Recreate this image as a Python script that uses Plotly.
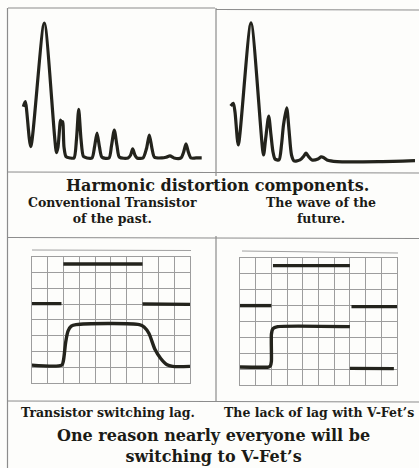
import plotly.graph_objects as go

W, H = 419, 468

# ---------------- data ----------------
# Harmonic distortion spectra (x: sweep position, y: relative amplitude, 100 = fundamental)
conv_x = [15.3, 17.3, 22.7, 36.3, 48.5, 50, 52.5, 53.5, 54.7, 56, 58, 62, 66, 68.5, 70.7, 73, 75.5, 79,
          84, 86.5, 89, 91.5, 94, 101, 103.5, 106.3, 109, 111.5, 120, 122.5, 124.7, 127, 129, 135,
          138.5, 141.3, 144, 146.5, 154, 158, 162, 166, 173, 175.5, 178, 180.5, 183, 188, 193.7]
conv_y = [38, 41.7, 8.4, 100, 4, 8, 28, 25, 27, 8, 1, 0, 0, 14, 36, 14, 1, 0,
          0, 8, 18.5, 8, 0.5, 0, 9, 20.7, 9, 0.5, 0, 2, 6.7, 2, 0, 0,
          7, 17, 7, 0.5, 0, 0.5, 1.5, 0, 0, 4, 10.4, 4, 0, 0, 0]

vfet_x = [13.7, 16.3, 18, 21.3, 34, 46.5, 48.5, 51.7, 54, 56, 58, 62, 64.5, 66.5, 69.7, 72, 74.5, 77,
          83, 87, 89, 91, 95, 101, 104, 106.5, 110, 120, 163, 198]
vfet_y = [39.4, 41.4, 35, 11, 100, 3.6, 14.6, 32, 18, 5.8, 0.7, 0, 11, 25.5, 38, 22, 3.6, -0.7,
          0, 3, 5, 3, 0, 0.7, 2.2, 1.8, 0, -1.2, -1.2, -0.5]

# Oscilloscope switching traces (x: divisions 0-10, y: divisions 0-8)
drive_x = [2.0, 7.0]
drive_y = [7.54, 7.54]
ref_x = [0, 1.88, None, 7.0, 10.0]
ref_y = [5.03, 5.03, None, 5.0, 4.98]
lag_x = [0, 1.9, 2.0, 2.15, 2.3, 2.5, 2.8, 6.8, 7.1, 7.4, 7.8, 8.15, 8.55, 8.9, 10.0]
lag_y = [1.13, 1.13, 1.4, 2.6, 3.3, 3.6, 3.7, 3.7, 3.55, 3.15, 2.1, 1.55, 1.15, 1.05, 1.05]

drive2_x = [2.1, 7.0]
drive2_y = [7.52, 7.52]
ref2_x = [0, 2.0, None, 7.1, 10.0]
ref2_y = [5.0, 5.0, None, 4.94, 4.94]
fast_x = [0, 1.8, 1.93, 2.0, 2.0, 2.1, 2.4, 7.0, None, 7.0, 9.8]
fast_y = [1.13, 1.13, 1.2, 1.5, 3.2, 3.55, 3.68, 3.68, None, 1.05, 1.03]

# ---------------- helpers ----------------
def px(x):
    return x / W

def py(y):
    return 1 - y / H

INK = "#23231c"
FRAME = "#8c8c8c"
GRID = "#9d9d9d"

fig = go.Figure()

fig.add_trace(go.Scatter(x=conv_x, y=conv_y, xaxis="x", yaxis="y", mode="lines",
                         line=dict(color=INK, width=3.2, shape="spline", smoothing=0.7),
                         hoverinfo="skip"))
fig.add_trace(go.Scatter(x=vfet_x, y=vfet_y, xaxis="x2", yaxis="y2", mode="lines",
                         line=dict(color=INK, width=3.2, shape="spline", smoothing=0.7),
                         hoverinfo="skip"))

for xs, ys, shape in [(drive_x, drive_y, "linear"), (ref_x, ref_y, "linear"), (lag_x, lag_y, "spline")]:
    fig.add_trace(go.Scatter(x=xs, y=ys, xaxis="x3", yaxis="y3", mode="lines",
                             line=dict(color=INK, width=3.4, shape=shape, smoothing=0.8),
                             connectgaps=False, hoverinfo="skip"))
for xs, ys, shape in [(drive2_x, drive2_y, "linear"), (ref2_x, ref2_y, "linear"), (fast_x, fast_y, "spline")]:
    fig.add_trace(go.Scatter(x=xs, y=ys, xaxis="x4", yaxis="y4", mode="lines",
                             line=dict(color=INK, width=3.4, shape=shape, smoothing=0.5),
                             connectgaps=False, hoverinfo="skip"))

hidden = dict(showgrid=False, zeroline=False, showticklabels=False, ticks="", showline=False, fixedrange=True)
scope = dict(showgrid=True, gridcolor=GRID, gridwidth=1, dtick=1, tick0=0, zeroline=False,
             showticklabels=False, ticks="", showline=True, linecolor=GRID, linewidth=1,
             mirror=True, fixedrange=True)

layout = dict(
    width=W, height=H, margin=dict(l=0, r=0, t=0, b=0),
    paper_bgcolor="#fdfdfb", plot_bgcolor="rgba(0,0,0,0)", showlegend=False,
    xaxis=dict(domain=[px(8), px(215)], range=[0, 207], **hidden),
    yaxis=dict(domain=[py(172), py(8)], range=[-10.4, 111.1], **hidden),
    xaxis2=dict(domain=[px(217), px(419)], range=[0, 202], anchor="y2", **hidden),
    yaxis2=dict(domain=[py(172), py(8)], range=[-8.8, 110.9], anchor="x2", **hidden),
    xaxis3=dict(domain=[px(31.7), px(190)], range=[0, 10], anchor="y3", **scope),
    yaxis3=dict(domain=[py(383), py(256.7)], range=[0, 8], anchor="x3", **scope),
    xaxis4=dict(domain=[px(240), px(397)], range=[0, 10], anchor="y4", **scope),
    yaxis4=dict(domain=[py(385), py(258)], range=[0, 8], anchor="x4", **scope),
)
fig.update_layout(**layout)

def line(x0, y0, x1, y1, color=FRAME, width=1.2):
    fig.add_shape(type="line", xref="paper", yref="paper", x0=px(x0), y0=py(y0), x1=px(x1), y1=py(y1),
                  line=dict(color=color, width=width))

# frame
line(8, 8, 215, 8)
line(216, 9.5, 419, 10)
line(7.5, 8, 7.5, 468)
line(216, 8, 216, 176)
line(8, 172, 419, 173)
line(8, 237.5, 419, 238.5)
line(216, 236, 216, 402)
line(8, 401, 419, 402)
# thin graticule caps above the scope grids
line(32, 250, 191, 250.5, color="#a0a0a0", width=1)
line(242, 251, 398, 253, color="#a0a0a0", width=1)

FONT = "DejaVu Serif"
TXT = "#1b1b16"

def text(s, x, y, size):
    fig.add_annotation(text=s, xref="paper", yref="paper", x=px(x), y=py(y), xanchor="center",
                       yanchor="middle", showarrow=False, borderpad=0,
                       font=dict(family=FONT, size=size, color=TXT, weight="bold"))

text("Harmonic distortion components.", 217, 186, 16)
text("Conventional Transistor<br>of the past.", 112, 211, 12.5)
text("The wave of the<br>future.", 321, 211, 12.5)
text("Transistor switching lag.", 108, 412, 12.5)
text("The lack of lag with V-Fet\u2019s", 319, 412, 12.5)
text("One reason nearly everyone will be<br>switching to V-Fet\u2019s", 214, 445.5, 16)

fig.write_html("out.html", config={"displayModeBar": False},
               post_script="document.body.style.margin='0';document.body.style.overflow='hidden';")
